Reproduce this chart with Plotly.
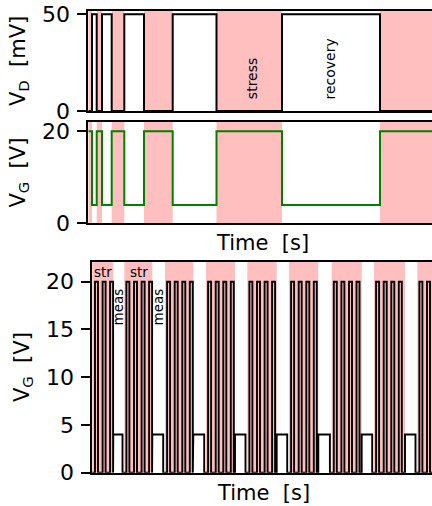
import plotly.graph_objects as go

# ---------------- data (arbitrary time units) ----------------
# top two panels: stress intervals (VG high, VD off)
stress_start_top = [0.0, 8.4, 23.4, 55.7, 128.2, 291.7]
stress_end_top = [3.7, 13.7, 36.0, 84.4, 193.7, 360.0]
VD_ON = 50      # mV, during recovery
VD_OFF = 0
VG_STRESS = 20  # V
VG_RECOV = 4    # V

# bottom panel: stress blocks with 4 pulses each, followed by a measurement
block_start = [-7.0, 32.0, 72.7, 113.7, 155.0, 196.7, 239.4, 281.7, 325.0]
block_end = [21.0, 60.0, 101.0, 142.7, 184.4, 226.0, 269.4, 312.7, 354.7]
pulse_offsets = [3.6, 11.2, 18.8, 26.3]
pulse_width = 3.0
meas_gap = 1.8
VG_PULSE = 20
VG_MEAS = 4

yticks_top = [0, 50]
yticks_mid = [0, 20]
yticks_bot = [0, 5, 10, 15, 20]

PINK = "#ffbfbf"
FONT = "DejaVu Sans"
W, H = 432, 506

# ---------------- build waveforms ----------------
def step_wave(starts, ends, hi, lo):
    xs, ys = [], []
    n = len(starts)
    for i in range(n):
        xs += [starts[i], ends[i]]
        ys += [hi, hi]
        if i < n - 1:
            xs += [ends[i], starts[i + 1]]
            ys += [lo, lo]
    return xs, ys

vg_x, vg_y = step_wave(stress_start_top, stress_end_top, VG_STRESS, VG_RECOV)
vd_x, vd_y = step_wave(stress_start_top, stress_end_top, VD_OFF, VD_ON)

bx, by = [], []
for i, (s, e) in enumerate(zip(block_start, block_end)):
    for off in pulse_offsets:
        a = s + off - pulse_width / 2
        b = a + pulse_width
        bx += [a, a, b, b]
        by += [0, VG_PULSE, VG_PULSE, 0]
    if i < len(block_start) - 1:
        ne = block_start[i + 1] - meas_gap
        bx += [e, e, ne, ne]
        by += [0, VG_MEAS, VG_MEAS, 0]

fig = go.Figure()
fig.add_trace(go.Scatter(x=vd_x, y=vd_y, mode="lines", line=dict(color="black", width=2),
                         xaxis="x", yaxis="y", showlegend=False))
fig.add_trace(go.Scatter(x=vg_x, y=vg_y, mode="lines", line=dict(color="green", width=2),
                         xaxis="x2", yaxis="y2", showlegend=False))
fig.add_trace(go.Scatter(x=bx, y=by, mode="lines", line=dict(color="black", width=1.9),
                         xaxis="x3", yaxis="y3", showlegend=False))

shapes = []
for xr, yr in (("x", "y"), ("x2", "y2")):
    for s, e in zip(stress_start_top, stress_end_top):
        shapes.append(dict(type="rect", xref=xr, yref=yr + " domain", x0=s, x1=e, y0=0, y1=1,
                           fillcolor=PINK, line=dict(width=0), layer="below"))
for s, e in zip(block_start, block_end):
    shapes.append(dict(type="rect", xref="x3", yref="y3 domain", x0=s, x1=e, y0=0, y1=1,
                       fillcolor=PINK, line=dict(width=0), layer="below"))

def px_x(p):
    return p / W

def px_y(p):
    return 1 - p / H

xcommon = dict(showline=True, mirror=True, linewidth=2, linecolor="black", showticklabels=False,
               ticks="", showgrid=False, zeroline=False)
ycommon = dict(showline=True, mirror=False, linewidth=2, linecolor="black", ticks="outside",
               ticklen=9, tickwidth=2, tickcolor="black", showgrid=False, zeroline=False,
               ticklabelstandoff=3,
               tickfont=dict(family=FONT, size=22, color="black"))

fig.update_layout(
    width=W, height=H, margin=dict(l=0, r=0, t=0, b=0, autoexpand=False),
    paper_bgcolor="white", plot_bgcolor="white",
    font=dict(family=FONT, color="black"),
    shapes=shapes,
    xaxis=dict(domain=[px_x(88.3), 1], anchor="y", range=[0, 343.7], **xcommon),
    yaxis=dict(domain=[px_y(111), px_y(11)], anchor="x", range=[0, 51.7], tickvals=yticks_top, **ycommon),
    xaxis2=dict(domain=[px_x(88.3), 1], anchor="y2", range=[0, 343.7], **xcommon),
    yaxis2=dict(domain=[px_y(223.3), px_y(121.7)], anchor="x2", range=[0, 22.1], tickvals=yticks_mid, **ycommon),
    xaxis3=dict(domain=[px_x(92.3), 1], anchor="y3", range=[0, 339.7], **xcommon),
    yaxis3=dict(domain=[px_y(472.7), px_y(261.7)], anchor="x3", range=[0, 22.1], tickvals=yticks_bot, **ycommon),
)

ann = []
lab = dict(family=FONT, size=21, color="black")
ann.append(dict(text="V<sub>D</sub> \u00a0[mV]", xref="paper", yref="paper", x=px_x(19), y=px_y(61),
                textangle=-90, showarrow=False, font=lab, xanchor="center", yanchor="middle"))
ann.append(dict(text="V<sub>G</sub> \u00a0[V]", xref="paper", yref="paper", x=px_x(19), y=px_y(172.5),
                textangle=-90, showarrow=False, font=lab, xanchor="center", yanchor="middle"))
ann.append(dict(text="V<sub>G</sub> \u00a0[V]", xref="paper", yref="paper", x=px_x(23), y=px_y(367),
                textangle=-90, showarrow=False, font=lab, xanchor="center", yanchor="middle"))
ann.append(dict(text="Time \u00a0[s]", xref="paper", yref="paper", x=px_x(262), y=px_y(243),
                showarrow=False, font=lab, xanchor="center", yanchor="middle"))
ann.append(dict(text="Time \u00a0[s]", xref="paper", yref="paper", x=px_x(263), y=px_y(493),
                showarrow=False, font=lab, xanchor="center", yanchor="middle"))

small = dict(family=FONT, size=14, color="black")
ann.append(dict(text="stress", xref="x", yref="y", x=164, y=5, textangle=-90, showarrow=False,
                font=small, xanchor="center", yanchor="bottom"))
ann.append(dict(text="recovery", xref="x", yref="y", x=241.4, y=5, textangle=-90, showarrow=False,
                font=small, xanchor="center", yanchor="bottom"))

small2 = dict(family=FONT, size=13.5, color="black")
for xv in (10.7, 46.2):
    ann.append(dict(text="str", xref="x3", yref="y3", x=xv, y=21.0, showarrow=False,
                    font=small2, xanchor="center", yanchor="middle"))
for xv in (26.2, 66.2):
    ann.append(dict(text="meas", xref="x3", yref="y3", x=xv, y=19.5, textangle=-90, showarrow=False,
                    font=small2, xanchor="center", yanchor="top"))
fig.update_layout(annotations=ann)

fig.write_html("out.html")
